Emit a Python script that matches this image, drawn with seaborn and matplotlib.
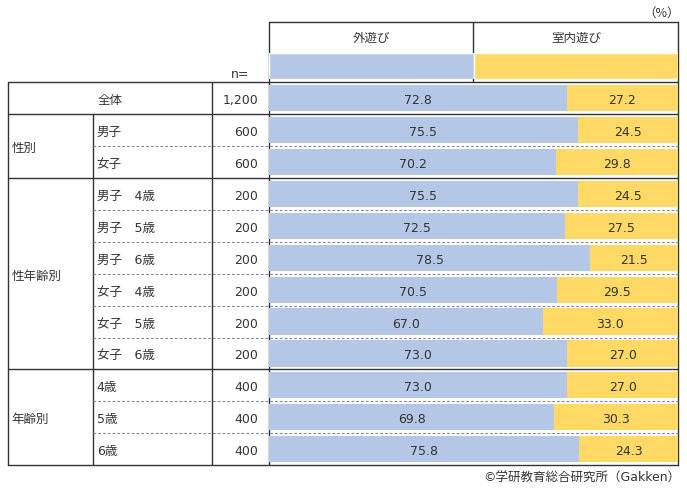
import pandas as pd
import matplotlib
matplotlib.use('Agg')
import matplotlib.pyplot as plt
import seaborn as sns

# データ
categories = ['全体', '男子', '女子',
              '男子　4歳', '男子　5歳', '男子　6歳',
              '女子　4歳', '女子　5歳', '女子　6歳',
              '4歳', '5歳', '6歳']
group_names = ['全体', '性別', '性年齢別', '年齢別']
group_sizes = [1, 2, 6, 3]
n_values = ['1,200', '600', '600', '200', '200', '200',
            '200', '200', '200', '400', '400', '400']
outdoor = [72.8, 75.5, 70.2, 75.5, 72.5, 78.5, 70.5, 67.0, 73.0, 73.0, 69.8, 75.8]
indoor = [27.2, 24.5, 29.8, 24.5, 27.5, 21.5, 29.5, 33.0, 27.0, 27.0, 30.3, 24.3]
series = ['外遊び', '室内遊び']

BLUE = '#B4C7E7'
YELLOW = '#FFD966'
TXT = '#333333'
LINE = '#333333'

sns.set_theme(style='white')
plt.rcParams['font.family'] = ['DejaVu Sans', 'Noto Sans CJK JP']
plt.rcParams['font.size'] = 9

W, H = 687, 489
fig = plt.figure(figsize=(W / 100, H / 100), dpi=100)
fig.patch.set_facecolor('white')

# 表の線・文字用（ピクセル座標）
ax0 = fig.add_axes([0, 0, 1, 1])
ax0.set_xlim(0, W)
ax0.set_ylim(H, 0)
ax0.axis('off')

x_left, x_grp, x_n, x_bar, x_right = 8.3, 93.3, 212.3, 269.3, 678.3
y_top, rh = 83.3, 31.9
y_bottom = y_top + rh * len(categories)
dy = 1.5  # 文字の縦位置の微調整


def hline(y, x1, x2, dashed=False):
    if dashed:
        ax0.plot([x1, x2], [y, y], color='#888888', lw=0.8, ls=(0, (2.5, 1.8)))
    else:
        ax0.plot([x1, x2], [y, y], color=LINE, lw=1.0)


def vline(x, y1, y2):
    ax0.plot([x, x], [y1, y2], color=LINE, lw=1.0)


# 外枠と縦線
hline(y_top, x_left, x_right)
hline(y_bottom, x_left, x_right)
vline(x_left, y_top, y_bottom)
vline(x_grp, y_top + rh, y_bottom)
vline(x_n, y_top, y_bottom)
vline(x_bar, 22.7, y_bottom)
vline(x_right, 22.7, y_bottom)
hline(22.7, x_bar, x_right)
vline(473.3, 22.7, 82)

# 行の区切り
row = 0
for g, size in zip(group_names, group_sizes):
    yc = y_top + rh * (row + size / 2) + dy
    if g == '全体':
        ax0.text((x_left + x_n) / 2, yc, g, ha='center', va='center', color=TXT)
    else:
        ax0.text(x_left + 3.5, yc, g, ha='left', va='center', color=TXT)
    for k in range(1, size):
        hline(y_top + rh * (row + k), x_grp, x_right, dashed=True)
    row += size
    if row < len(categories):
        hline(y_top + rh * row, x_left, x_right)

for i, (lab, n) in enumerate(zip(categories, n_values)):
    yc = y_top + rh * (i + 0.5) + dy
    if i > 0:
        ax0.text(x_grp + 3.5, yc, lab, ha='left', va='center', color=TXT)
    ax0.text(x_bar - 11, yc, n, ha='right', va='center', color=TXT)

ax0.text(249, 74, 'n=', ha='right', va='center', color=TXT)
ax0.text(680, 13, '（%）', ha='right', va='center', color=TXT,
         family=['Noto Sans CJK JP'])
ax0.text((x_bar + 473.3) / 2, 38.5, series[0], ha='center', va='center', color=TXT)
ax0.text((473.3 + x_right) / 2, 38.5, series[1], ha='center', va='center', color=TXT)
ax0.text(680, 478, '©学研教育総合研究所（Gakken）', ha='right', va='center', color=TXT)

# 凡例バー
lax = fig.add_axes([x_bar / W, 1 - 80 / H, (677.7 - x_bar) / W, (80 - 54.3) / H])
lax.barh([0], [50], color=BLUE, height=1)
lax.barh([0], [50], left=[50], color=YELLOW, height=1)
lax.set_xlim(0, 100)
lax.set_ylim(-0.5, 0.5)
lax.axis('off')

# 帯グラフ
df = pd.DataFrame({'label': categories, 'outdoor': outdoor, 'indoor': indoor})
df['total'] = df['outdoor'] + df['indoor']

ax = fig.add_axes([x_bar / W, 1 - y_bottom / H, (677.7 - x_bar) / W, (y_bottom - y_top) / H])
sns.barplot(data=df, y='label', x='total', color=YELLOW, saturation=1,
            width=0.82, linewidth=0, ax=ax)
sns.barplot(data=df, y='label', x='outdoor', color=BLUE, saturation=1,
            width=0.82, linewidth=0, ax=ax)
ax.set_xlim(0, 100)
ax.set_ylim(len(categories) - 0.5, -0.5)
ax.axis('off')

off = dy / rh
for i, (o, d) in enumerate(zip(outdoor, indoor)):
    ax.text(o / 2, i + off, f'{o:.1f}', ha='center', va='center', color=TXT)
    ax.text(o + d / 2, i + off, f'{d:.1f}', ha='center', va='center', color=TXT)

fig.savefig('out.png', dpi=100)
